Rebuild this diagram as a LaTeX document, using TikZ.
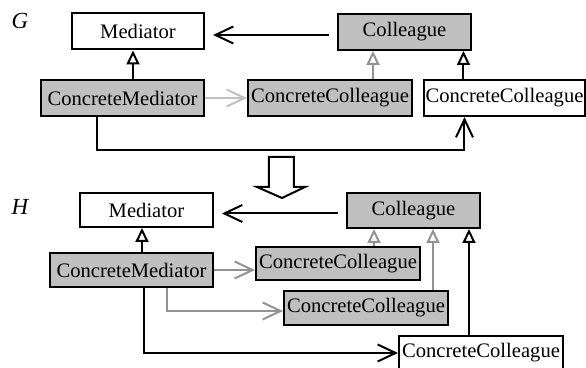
\documentclass[tikz,border=0pt]{standalone}
\usepackage{fontspec}
\setmainfont{Liberation Serif}
\usetikzlibrary{arrows.meta}
\definecolor{boxgray}{HTML}{C0C0C0}
\definecolor{lightline}{HTML}{C0C0C0}
\definecolor{midline}{HTML}{939393}
\tikzset{
  cls/.style={draw=black,line width=1pt,inner sep=0pt,minimum width=82pt,minimum height=18pt},
  clsg/.style={cls,fill=boxgray},
  inh/.style={-{Triangle[open,length=7pt,width=6.5pt]},line width=1pt},
  uses/.style={-{Straight Barb[length=9pt,width=8.5pt]},line width=1pt},
  lbl/.style={font=\fontsize{11.5}{13}\selectfont\itshape},
}

\begin{document}
\begin{tikzpicture}[x=0.5pt,y=-0.5pt,font=\fontsize{10.3}{12}\selectfont]
\useasboundingbox (0,0) rectangle (586,368);

% G
\draw (20,21) node[lbl] (LG) {G}
  +(118,10.5) node[cls,minimum width=66pt] (MG) {Mediator}
  +(384.5,11) node[clsg,minimum width=66.5pt] (CG) {Colleague}
  +(102.5,77) node[clsg,minimum width=81.5pt] (CMG) {ConcreteMediator}
  +(310,77) node[clsg] (CCG) {ConcreteColleague}
  +(484.5,77) node[cls,minimum width=80.5pt] (CCGb) {ConcreteColleague};
\coordinate (BG) at (300,150);
\draw[uses,shorten <=4pt,shorten >=4pt] ([yshift=-1.5pt]CG.west) -- ([yshift=-1.5pt]CG.west -| MG.east);
\draw[inh] ([xshift=-2.5pt]MG.south |- CMG.north) -- ([xshift=-2.5pt]MG.south);
\draw[uses,lightline] (CMG.east) -- (CCG.west);
\draw[inh,midline] ([xshift=21.5pt]CCG.north) -- ([xshift=21.5pt]CCG.north |- CG.south);
\draw[inh] ([xshift=-20.5pt]CCGb.north) -- ([xshift=-20.5pt]CCGb.north |- CG.south);
\draw[uses] ([xshift=-12.75pt]CMG.south) |- (BG) -| ([xshift=-20pt]CCGb.south);

% G => H
\draw[line width=1pt,fill=white] (269,157) -- (294,157) -- (294,187) -- (305,187)
  -- (282,198) -- (257,187) -- (269,187) -- cycle;

% H
\draw (20,207) node[lbl] (LH) {H}
  +(126.5,3) node[cls,minimum width=66.5pt,minimum height=17pt] (MH) {Mediator}
  +(393.5,3.5) node[clsg,minimum width=66.5pt,minimum height=17.5pt] (CH) {Colleague}
  +(111.5,63) node[clsg,minimum width=81.5pt,minimum height=17pt] (CMH) {ConcreteMediator}
  +(318,56.5) node[clsg,minimum height=16.5pt] (CCH) {ConcreteColleague}
  +(346,101) node[clsg,minimum height=17pt] (CCHb) {ConcreteColleague}
  +(461,146) node[cls,minimum height=17pt] (CCHc) {ConcreteColleague};
\draw[uses,shorten <=4pt,shorten >=4pt] ([yshift=-1.5pt]CH.west) -- ([yshift=-1.5pt]CH.west -| MH.east);
\draw[inh] ([xshift=-2.25pt]MH.south |- CMH.north) -- ([xshift=-2.25pt]MH.south);
\draw[uses,midline] (CMH.east) -- (CMH.east -| CCH.west);
\draw[uses,midline] ([xshift=17.75pt]CMH.south) |- ([yshift=-1.5pt]CCHb.west);
\draw[uses] ([xshift=6.25pt]CMH.south) |- (CCHc.west);
\draw[inh,midline] ([xshift=18pt]CCH.north) -- ([xshift=18pt]CCH.north |- CH.south);
\draw[inh,midline] ([xshift=33.5pt]CCHb.north) -- ([xshift=33.5pt]CCHb.north |- CH.south);
\draw[inh] ([xshift=-6pt]CCHc.north) -- ([xshift=-6pt]CCHc.north |- CH.south);
\end{tikzpicture}
\end{document}
